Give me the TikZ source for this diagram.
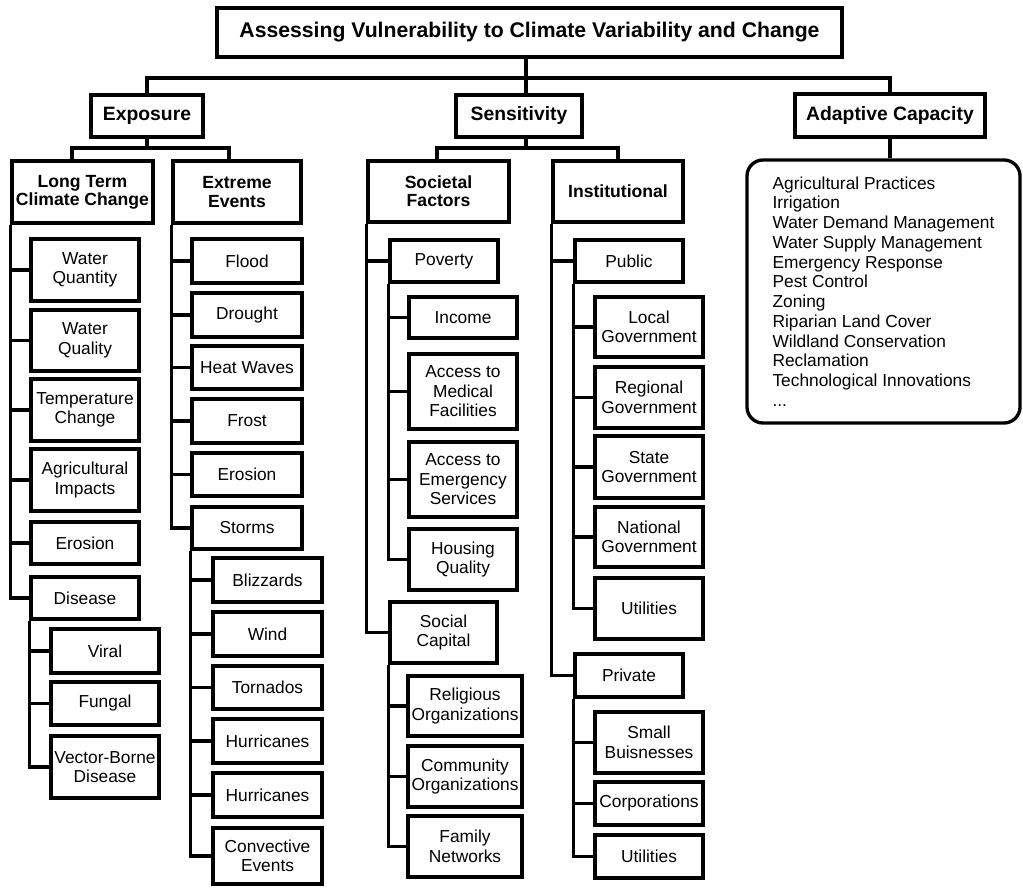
\documentclass[tikz,border=0pt]{standalone}
\usepackage{fontspec}
\setmainfont{Liberation Sans}
\newcommand{\tbox}[7][box]{%
  \pgfmathsetmacro{\tbw}{(#5-#3)*0.75}%
  \pgfmathsetmacro{\tbh}{(#6-#4)*0.75}%
  \node[#1, minimum width=\tbw pt, minimum height=\tbh pt] (#2) at ({(#3+#5)/2},{(#4+#6)/2}) {#7};}
\begin{document}
\begin{tikzpicture}[x=0.75pt,y=-0.75pt,line width=2.5pt,
  box/.style={draw, rectangle, inner sep=0pt, align=center, font=\fontsize{13}{14.6}\selectfont},
  titlebox/.style={box, font=\bfseries\fontsize{15.9}{18}\selectfont},
  headbox/.style={box, font=\bfseries\fontsize{14.5}{16}\selectfont},
  subbox/.style={box, font=\bfseries\fontsize{13.2}{13.6}\selectfont},
  listbox/.style={draw, rectangle, rounded corners=12pt, inner sep=0pt, align=left, font=\fontsize{13}{14.8}\selectfont}]
\useasboundingbox (0,0) rectangle (1023,888);

% top levels
\tbox[titlebox]{title}{217}{8}{842}{57}{Assessing Vulnerability to Climate Variability and Change}
\tbox[headbox]{exposure}{91}{95}{203}{137}{Exposure}
\tbox[headbox]{sensitivity}{456}{95}{582}{137}{Sensitivity}
\tbox[headbox]{adaptive}{795}{94}{985}{137}{Adaptive Capacity}
\tbox[subbox]{longterm}{12}{161}{153}{223}{Long Term\\Climate Change}
\tbox[subbox]{extreme}{173}{161}{301}{223}{Extreme\\Events}
\tbox[subbox]{societal}{368}{161}{509}{222}{Societal\\Factors}
\tbox[subbox]{institutional}{553}{161}{683}{222}{Institutional}

% long term children
\tbox{wqn}{31}{239}{139}{301}{Water\\Quantity}
\tbox{wql}{31}{310}{139}{371}{Water\\Quality}
\tbox{tmp}{31}{379}{139}{441}{Temperature\\Change}
\tbox{agr}{31}{449}{139}{511}{Agricultural\\Impacts}
\tbox{eroa}{31}{522}{139}{564}{Erosion}
\tbox{dis}{31}{577}{139}{619}{Disease}
\tbox{vir}{51}{629}{159}{673}{Viral}
\tbox{fun}{51}{682}{159}{725}{Fungal}
\tbox{vec}{51}{736}{159}{798}{Vector-Borne\\Disease}

% extreme children
\tbox{flo}{192}{239}{302}{283}{Flood}
\tbox{dro}{192}{293}{302}{337}{Drought}
\tbox{hea}{192}{346}{302}{389}{Heat Waves}
\tbox{fro}{192}{399}{302}{443}{Frost}
\tbox{erob}{192}{453}{302}{496}{Erosion}
\tbox{sto}{192}{507}{302}{549}{Storms}
\tbox{bli}{213}{558}{322}{602}{Blizzards}
\tbox{win}{213}{612}{322}{656}{Wind}
\tbox{tor}{213}{666}{322}{709}{Tornados}
\tbox{hua}{213}{719}{322}{763}{Hurricanes}
\tbox{hub}{213}{773}{322}{817}{Hurricanes}
\tbox{con}{213}{828}{322}{884}{Convective\\Events}

% societal children
\tbox{pov}{390}{240}{498}{282}{Poverty}
\tbox{inc}{409}{297}{517}{338}{Income}
\tbox{med}{409}{354}{517}{429}{Access to\\Medical\\Facilities}
\tbox{eme}{409}{442}{517}{517}{Access to\\Emergency\\Services}
\tbox{hou}{409}{529}{517}{590}{Housing\\Quality}
\tbox{soc}{390}{602}{497}{663}{Social\\Capital}
\tbox{rel}{408}{676}{522}{736}{Religious\\Organizations}
\tbox{com}{408}{746}{522}{807}{Community\\Organizations}
\tbox{fam}{408}{816}{522}{877}{Family\\Networks}

% institutional children
\tbox{pub}{575}{240}{683}{282}{Public}
\tbox{loc}{595}{297}{703}{357}{Local\\Government}
\tbox{reg}{595}{367}{703}{428}{Regional\\Government}
\tbox{sta}{595}{436}{703}{498}{State\\Government}
\tbox{nat}{595}{507}{703}{567}{National\\Government}
\tbox{uta}{595}{578}{703}{639}{Utilities}
\tbox{pri}{575}{654}{683}{697}{Private}
\tbox{sma}{595}{712}{703}{773}{Small\\Buisnesses}
\tbox{cor}{595}{782}{703}{825}{Corporations}
\tbox{utb}{595}{835}{703}{878}{Utilities}

% adaptive list
\tbox[listbox]{adaptlist}{747}{160}{1020}{423}{Agricultural Practices\\Irrigation\\Water Demand Management\\Water Supply Management\\Emergency Response\\Pest Control\\Zoning\\Riparian Land Cover\\Wildland Conservation\\Reclamation\\Technological Innovations\\...}

% bus coordinates
\coordinate (tbus) at (526,78);
\coordinate (ebus) at (147,148);
\coordinate (ebL) at (72,148);
\coordinate (ebR) at (229,148);
\coordinate (sbus) at (526,148);
\coordinate (sbL) at (437,148);
\coordinate (sbR) at (618,148);

% connectors
\draw (title.south -| tbus) -- (tbus);
\draw (exposure.north) |- (tbus) -| (adaptive.north);
\draw (tbus) -- (sensitivity.north -| tbus);
\draw (exposure.south) -- (ebus);
\draw (longterm.north -| ebL) -- (ebL) -- (ebR) -- (extreme.north -| ebR);
\draw (sensitivity.south -| sbus) -- (sbus);
\draw (societal.north -| sbL) -- (sbL) -- (sbR) -- (institutional.north -| sbR);
\draw (adaptive.south) -- (adaptlist.north -| adaptive.south);

\foreach \c in {wqn,wql,tmp,agr,eroa,dis} \draw (longterm.south west) |- (\c.west);
\foreach \c in {vir,fun,vec} \draw (dis.south west) |- (\c.west);
\foreach \c in {flo,dro,hea,fro,erob,sto} \draw (extreme.south west) |- (\c.west);
\foreach \c in {bli,win,tor,hua,hub,con} \draw (sto.south west) |- (\c.west);
\foreach \c in {pov,soc} \draw (societal.south west) |- (\c.west);
\foreach \c in {inc,med,eme,hou} \draw (pov.south west) |- (\c.west);
\foreach \c in {rel,com,fam} \draw (soc.south west) |- (\c.west);
\foreach \c in {pub,pri} \draw (institutional.south west) |- (\c.west);
\foreach \c in {loc,reg,sta,nat,uta} \draw (pub.south west) |- (\c.west);
\foreach \c in {sma,cor,utb} \draw (pri.south west) |- (\c.west);
\end{tikzpicture}
\end{document}
